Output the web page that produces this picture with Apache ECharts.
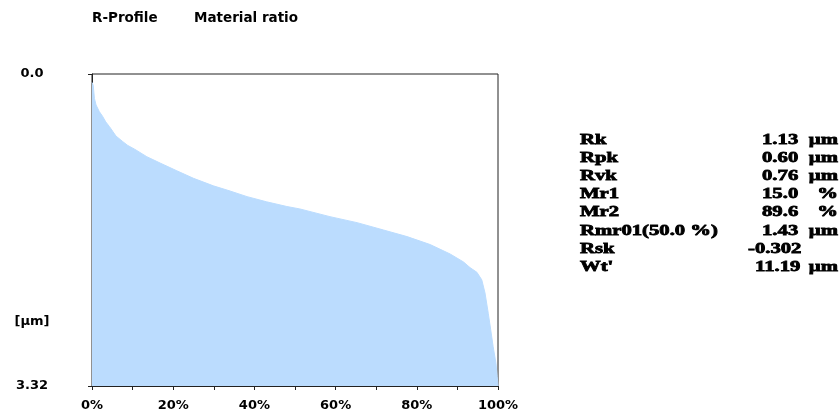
<!DOCTYPE html>
<html>
<head>
<meta charset="utf-8">
<script src="https://cdn.jsdelivr.net/npm/echarts@6/dist/echarts.min.js"></script>
<style>
html,body{margin:0;padding:0;background:#fff;}
#chart{width:840px;height:414px;}
</style>
</head>
<body>
<div id="chart"></div>
<script>
// Material ratio curve (Abbott-Firestone)
var ratioPct = [0, 0.3, 0.6, 1.0, 1.8, 2.6, 3.4, 4.3, 5.1, 5.9, 7.6, 8.8, 10.5, 13.5, 16.9, 20.9, 25.0, 29.9, 34.0, 38.2, 43.0, 48.0, 51.2, 58.6, 65.3, 71.8, 77.6, 83.3, 88.2, 91.5, 93.1, 94.8, 96.0, 96.8, 97.6, 98.2, 98.8, 99.5, 99.8, 100];
var depthUm  = [0.09, 0.12, 0.26, 0.33, 0.40, 0.45, 0.51, 0.56, 0.61, 0.66, 0.72, 0.76, 0.80, 0.88, 0.95, 1.03, 1.11, 1.19, 1.245, 1.305, 1.36, 1.41, 1.436, 1.518, 1.582, 1.66, 1.73, 1.815, 1.915, 2.00, 2.06, 2.11, 2.19, 2.33, 2.546, 2.72, 2.90, 3.08, 3.22, 3.32];

var yMin = 0.0, yMax = 3.32;
var yTickLabels = ['0.0', '3.32'];
var xTickStep = 10, xLabelStep = 20;

var titles = ['R-Profile', 'Material ratio'];
var yUnitLabel = '[µm]';

var paramNames  = ['Rk', 'Rpk', 'Rvk', 'Mr1', 'Mr2', 'Rmr01(50.0 %)', 'Rsk', "Wt'"];
var paramValues = ['1.13', '0.60', '0.76', '15.0', '89.6', '1.43', '-0.302', '11.19'];
var paramUnits  = ['µm', 'µm', 'µm', '%', '%', 'µm', '', 'µm'];

var seriesData = ratioPct.map(function (r, i) { return [r, depthUm[i]]; });

function sansText(x, y, text, size, align) {
  return {type:'text', x:x, y:y, style:{text:text, fontFamily:'DejaVu Sans', fontWeight:'bold', fontSize:size, fill:'#000', align:align || 'left', verticalAlign:'middle'}};
}
var graphics = [];
graphics.push(sansText(92, 18, titles[0], 13.5));
graphics.push(sansText(194, 18, titles[1], 13.5));
graphics.push(sansText(32, 322, yUnitLabel, 13, 'center'));

// parameter table
var sx = 1.38;
function serifText(x, y, text, align) {
  return {type:'text', x:x, y:y, scaleX:sx, style:{text:text, fontFamily:'"Liberation Serif", "Times New Roman", serif', fontWeight:'bold', fontSize:15, fill:'#000', stroke:'#000', lineWidth:0.8, align:align || 'left', verticalAlign:'middle'}};
}
paramNames.forEach(function (n, i) {
  var y = 140 + i * 18.15;
  graphics.push(serifText(580, y, n));
  var v = paramValues[i];
  var nx = 762 - Math.max(0, v.length - 4) * 7;
  graphics.push(serifText(nx, y, v));
  if (paramUnits[i]) {
    graphics.push(serifText(838, y, paramUnits[i], 'right'));
  }
});

var chart = echarts.init(document.getElementById('chart'), null, {renderer:'canvas'});
chart.setOption({
  animation: false,
  backgroundColor: '#fff',
  grid: {left:92, right:342, top:74, bottom:28, show:true, borderColor:'#222', borderWidth:1, backgroundColor:'transparent'},
  xAxis: {
    type:'value', min:0, max:100, interval:xTickStep,
    axisLine:{show:true, onZero:false, lineStyle:{color:'#222', width:1}},
    axisTick:{show:true, length:4, lineStyle:{color:'#222'}},
    splitLine:{show:false},
    axisLabel:{
      color:'#000', fontFamily:'DejaVu Sans', fontWeight:'bold', fontSize:13, margin:13,
      formatter:function (v) { return (Math.round(v) % xLabelStep === 0) ? Math.round(v) + '%' : ''; }
    }
  },
  yAxis: {
    type:'value', inverse:true, min:yMin, max:yMax, interval:yMax - yMin,
    axisLine:{show:true, onZero:false, lineStyle:{color:'#222', width:1}},
    axisTick:{show:true, length:4, lineStyle:{color:'#222'}},
    splitLine:{show:false},
    axisLabel:{
      color:'#000', fontFamily:'DejaVu Sans', fontWeight:'bold', fontSize:13, margin:60, align:'center',
      showMinLabel:true, showMaxLabel:true,
      formatter:function (v) { return Math.abs(v - yMin) < 1e-9 ? yTickLabels[0] : yTickLabels[1]; }
    }
  },
  series: [{
    type:'line',
    data:seriesData,
    symbol:'none',
    lineStyle:{width:1, color:'#bbdcfe'},
    areaStyle:{color:'#bbdcfe', opacity:1, origin:'end'},
    z:1
  }],
  graphic: graphics
});
</script>
</body>
</html>
